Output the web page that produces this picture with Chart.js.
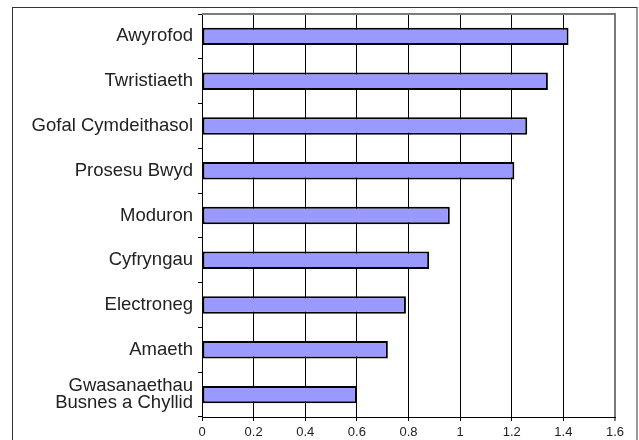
<!DOCTYPE html>
<html>
<head>
<meta charset="utf-8">
<script src="https://cdn.jsdelivr.net/npm/chart.js@4/dist/chart.umd.min.js"></script>
<style>
  html, body { margin: 0; padding: 0; background: #fff; }
  .wrap { position: relative; width: 639px; height: 440px; overflow: hidden; }
  .frame { position: absolute; left: 12px; top: 7px; width: 623px; height: 460px;
           border-top: 1px solid #333; border-left: 1px solid #333; border-right: 2px solid #999; }
  canvas { position: absolute; left: 0; top: 0; }
</style>
</head>
<body>
<div class="wrap">
  <div class="frame"></div>
  <canvas id="myChart" width="639" height="440"></canvas>
</div>
<script>
// categories top to bottom
let sectors = [
  'Awyrofod',
  'Twristiaeth',
  'Gofal Cymdeithasol',
  'Prosesu Bwyd',
  'Moduron',
  'Cyfryngau',
  'Electroneg',
  'Amaeth',
  ['Gwasanaethau', 'Busnes a Chyllid']
];
let values = [1.42, 1.34, 1.26, 1.21, 0.96, 0.88, 0.79, 0.72, 0.60];
let xTickLabels = ['0', '0.2', '0.4', '0.6', '0.8', '1', '1.2', '1.4', '1.6'];

// grey line along the top and right of the plot area
let plotFrame = {
  id: 'plotFrame',
  afterDatasetsDraw(chart) {
    let a = chart.chartArea;
    let c = chart.ctx;
    c.save();
    c.strokeStyle = '#7a7a7a';
    c.lineWidth = 2;
    c.beginPath();
    c.moveTo(a.left, a.top);
    c.lineTo(a.right, a.top);
    c.lineTo(a.right, a.bottom);
    c.stroke();
    c.restore();
  }
};

let ctx = document.getElementById('myChart').getContext('2d');

let myChart = new Chart(ctx, {
  type: 'bar',
  data: {
    labels: sectors,
    datasets: [{
      data: values,
      backgroundColor: '#9999ff',
      borderColor: '#000',
      borderWidth: 2,
      borderSkipped: false,
      categoryPercentage: 1,
      barPercentage: 0.39
    }]
  },
  options: {
    indexAxis: 'y',
    responsive: false,
    animation: false,
    layout: { padding: { top: 14, right: 24, left: 0, bottom: 0 } },
    plugins: { legend: { display: false }, tooltip: { enabled: false } },
    scales: {
      x: {
        min: 0,
        max: 1.6,
        afterFit(scale) { scale.height = 23; scale.paddingLeft = 0; scale.paddingRight = 0; },
        ticks: {
          stepSize: 0.2,
          padding: 4,
          color: '#222',
          font: { family: 'Liberation Sans, Arial, sans-serif', size: 13 },
          maxRotation: 0,
          callback: (v, i) => xTickLabels[i]
        },
        grid: {
          color: c => (c.index === 8 ? '#7a7a7a' : '#000'),
          lineWidth: c => (c.index === 8 ? 2 : 1),
          tickColor: '#000',
          tickWidth: 1,
          tickLength: 4
        },
        border: { color: '#000', width: 1 }
      },
      y: {
        afterFit(scale) { scale.width = 202; scale.paddingTop = 0; scale.paddingBottom = 0; },
        ticks: {
          padding: 5,
          color: '#222',
          font: { family: 'Liberation Sans, Arial, sans-serif', size: 18.5, lineHeight: 0.95 }
        },
        grid: {
          drawOnChartArea: false,
          color: '#000',
          tickLength: 4
        },
        border: { color: '#000', width: 1 }
      }
    }
  },
  plugins: [plotFrame]
});
</script>
</body>
</html>
